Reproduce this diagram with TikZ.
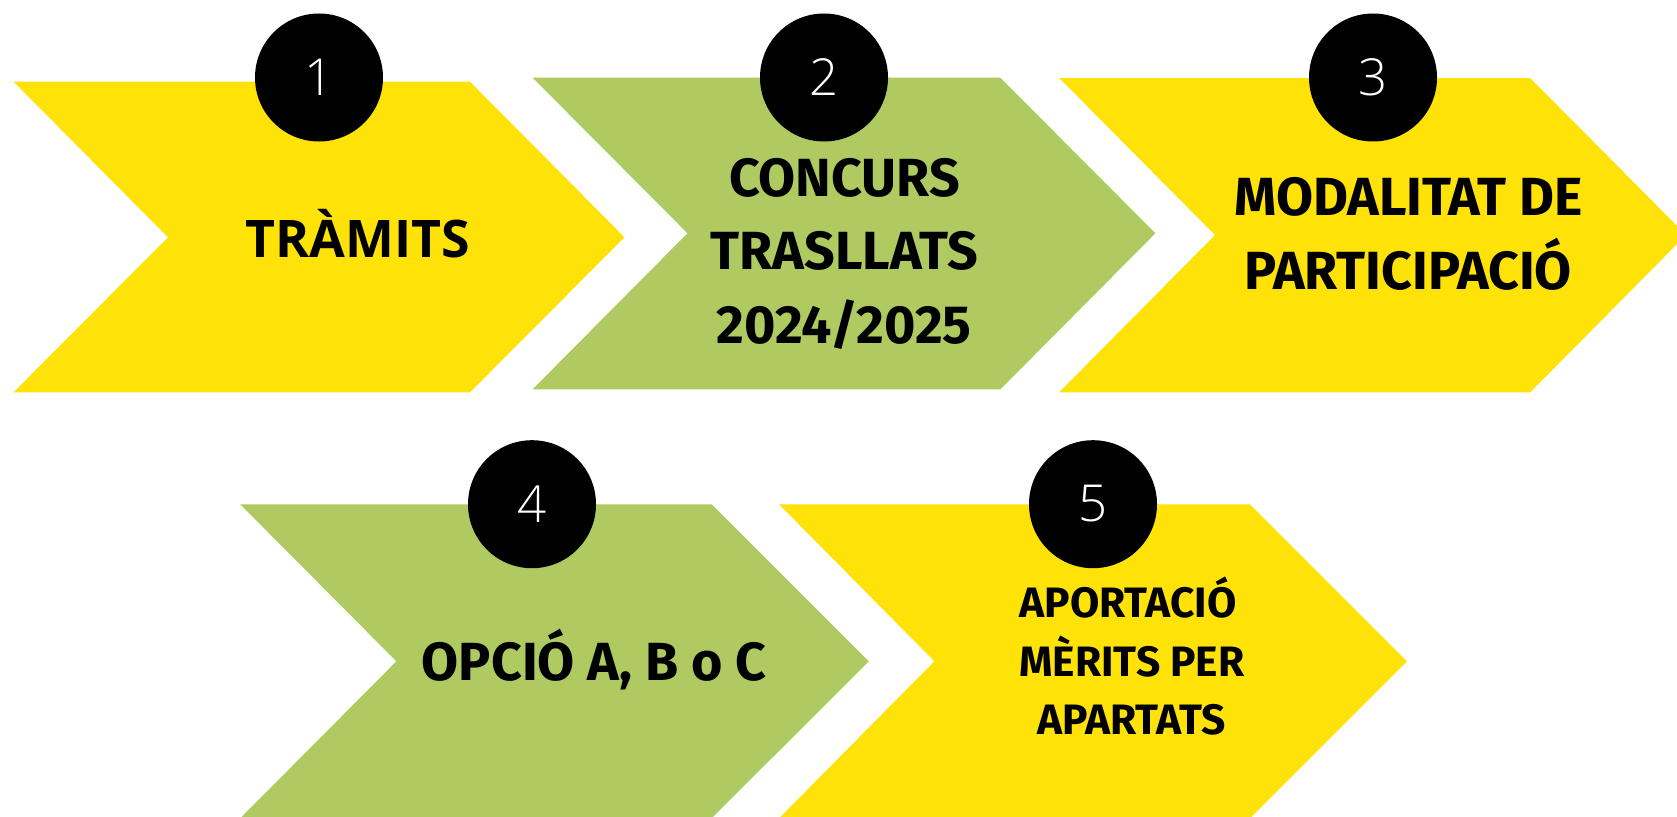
\documentclass[tikz,border=0pt]{standalone}
\usepackage{fontspec}
\newfontfamily\dinfont{Fira Sans}
\newfontfamily\osfont{Open Sans}
\newfontfamily\numfont{Open Sans Light}
\definecolor{cyellow}{RGB}{254,226,8}
\definecolor{cgreen}{RGB}{175,202,96}
\tikzset{
  chevyellow/.style={fill=cyellow},
  chevgreen/.style={fill=cgreen},
  numcircle/.style={circle,fill=black,minimum size=128pt,inner sep=0pt},
  numtext/.style={anchor=base,text=white,font=\numfont\fontsize{51}{60}\selectfont,inner sep=0pt},
  bigtext/.style={anchor=base,inner sep=0pt,font=\dinfont\bfseries\fontsize{53.7}{60}\selectfont},
  smalltext/.style={anchor=base,inner sep=0pt,font=\dinfont\bfseries\fontsize{42.5}{50}\selectfont},
  ostext/.style={anchor=base,inner sep=0pt,font=\osfont\bfseries\fontsize{51.8}{60}\selectfont}
}
\begin{document}
\begin{tikzpicture}[x=1pt,y=-1pt]
\path[use as bounding box] (0,0) rectangle (1677,816);
\clip (0,0) rectangle (1677,816);
% chevrons
\fill[chevyellow] (13.5,81.7) -- (470,81.7) -- (624.5,237.3) -- (470,392.3) -- (13.5,392.3) -- (168,237.3) -- cycle;
\fill[chevgreen] (532.6,77.7) -- (1000.4,77.7) -- (1155.4,233.3) -- (1000.4,389.3) -- (532.6,389.3) -- (687.5,233.3) -- cycle;
\fill[chevyellow] (1059.2,78) -- (1530.2,78) -- (1686,235) -- (1530.2,392.3) -- (1059.2,392.3) -- (1215,235) -- cycle;
\fill[chevgreen] (240.2,504.3) -- (711.6,504.3) -- (868.8,661.3) -- (711.6,818.3) -- (240.2,818.3) -- (396.4,661.3) -- cycle;
\fill[chevyellow] (779,504.3) -- (1250,504.3) -- (1407,661.3) -- (1250,818.3) -- (779,818.3) -- (934.4,661.3) -- cycle;
% circles
\node[numcircle] (c1) at (319,77.5) {};
\node[numcircle] (c2) at (824,77.5) {};
\node[numcircle] (c3) at (1373,77.5) {};
\node[numcircle] (c4) at (532,504.2) {};
\node[numcircle] (c5) at (1093,504.2) {};
\node[numtext] (n1) at (319,95.7) {1};
\node[numtext] (n2) at (824,95.7) {2};
\node[numtext] (n3) at (1373,95.7) {3};
\node[numtext] (n4) at (532,522.3) {4};
\node[numtext] (n5) at (1093,521.7) {5};
% texts
\node[ostext] (t1) at (357.6,257) {TRÀMITS};
\node[bigtext] (t2a) at (844.6,196) {CONCURS};
\node[bigtext] (t2b) at (844.2,269.3) {TRASLLATS};
\node[bigtext] (t2c) at (844.2,343.3) {2024/2025};
\node[bigtext] (t3a) at (1408.5,215.7) {MODALITAT DE};
\node[bigtext] (t3b) at (1408,289.3) {PARTICIPACIÓ};
\node[bigtext] (t4) at (594,680) {OPCIÓ A, B o C};
\node[smalltext] (t5a) at (1128,617.7) {APORTACIÓ};
\node[smalltext] (t5b) at (1132,676) {MÈRITS PER};
\node[smalltext] (t5c) at (1131.7,734) {APARTATS};
\end{tikzpicture}
\end{document}
